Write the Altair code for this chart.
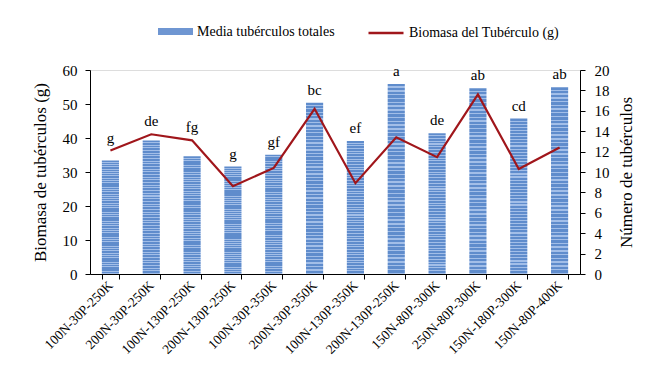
import altair as alt
import pandas as pd

categories = ["100N-30P-250K", "200N-30P-250K", "100N-130P-250K", "200N-130P-250K",
              "100N-30P-350K", "200N-30P-350K", "100N-130P-350K", "200N-130P-250K ",
              "150N-80P-300K", "250N-80P-300K", "150N-180P-300K", "150N-80P-400K"]
biomasa = [33.4, 39.3, 34.6, 31.6, 35.1, 50.4, 39.1, 55.9, 41.4, 54.6, 45.7, 54.9]
numero = [12.1, 13.7, 13.1, 8.6, 10.4, 16.2, 8.9, 13.4, 11.45, 17.6, 10.3, 12.4]
letras = ["g", "de", "fg", "g", "gf", "bc", "ef", "a", "de", "ab", "cd", "ab"]

bar_name = "Media tubérculos totales"
line_name = "Biomasa del Tubérculo (g)"

df = pd.DataFrame({
    "cat": categories,
    "bio": biomasa,
    "num": numero,
    "let": letras,
    "sb": [bar_name] * len(categories),
    "sl": [line_name] * len(categories),
})

FONT = "Liberation Serif"
DARK = "#5f8ccc"
LIGHT = "#a2bee8"

# horizontal stripe texture for the bars
N_STRIPES = 50
stops = []
for i in range(N_STRIPES):
    a = i / N_STRIPES
    m = (i + 0.62) / N_STRIPES
    b = (i + 1) / N_STRIPES
    stops += [alt.GradientStop(offset=a, color=DARK), alt.GradientStop(offset=m, color=DARK),
              alt.GradientStop(offset=m, color=LIGHT), alt.GradientStop(offset=b, color=LIGHT)]
stripes = alt.Gradient(gradient="linear", stops=stops, x1=0, x2=0, y1=0, y2=1)

xscale = alt.Scale(paddingInner=0.58, paddingOuter=0.29)
xaxis = alt.Axis(tickBand="extent", labelAngle=-45, labelAlign="right",
                 labelBaseline="middle", labelFontSize=13.5, labelPadding=4,
                 labelLimit=200, labelOverlap=False, title=None, labelFont=FONT,
                 labelExpr="trim(datum.label)")
X = dict(shorthand="cat:N", sort=categories, title=None, scale=xscale, axis=xaxis)

bars = alt.Chart(df).mark_bar(color=stripes).encode(
    x=alt.X(**X),
    y=alt.Y("bio:Q", scale=alt.Scale(domain=[0, 60]),
            axis=alt.Axis(values=[0, 10, 20, 30, 40, 50, 60], tickCount=7,
                          title="Biomasa de tubérculos (g)", titlePadding=13,
                          labelPadding=8, labelFont=FONT)),
)

legend_bar = alt.Chart(df).mark_bar(opacity=0).encode(
    x=alt.X(**X),
    y=alt.Y("bio:Q", scale=alt.Scale(domain=[0, 60]), axis=None),
    fill=alt.Fill("sb:N", scale=alt.Scale(domain=[bar_name], range=["#6f96d2"]),
                  legend=alt.Legend(title=None, orient="none", legendX=68, legendY=-56,
                                    symbolType="M-1,-0.2H1V0.2H-1Z", symbolSize=1225,
                                    symbolStrokeWidth=0, symbolOpacity=1,
                                    labelFont=FONT)),
)

# letters sit above whichever is higher: the bar or the line point (line scale is 1/3 of bar scale)
text = alt.Chart(df).transform_calculate(
    ly="max(datum.bio, datum.num * 3)"
).mark_text(baseline="bottom", dy=-5, font=FONT, fontSize=15, color="black").encode(
    x=alt.X(**X),
    y=alt.Y("ly:Q", scale=alt.Scale(domain=[0, 60]), axis=None),
    text="let:N",
)

line = alt.Chart(df).mark_line(strokeWidth=2.2, color="#a0161b").encode(
    x=alt.X(**X),
    y=alt.Y("num:Q", scale=alt.Scale(domain=[0, 20]),
            axis=alt.Axis(orient="right", values=list(range(0, 21, 2)),
                          title="Número de tubérculos", titleAngle=-90,
                          titlePadding=9, titleBaseline="top", labelPadding=9,
                          labelFont=FONT)),
    stroke=alt.Stroke("sl:N", scale=alt.Scale(domain=[line_name], range=["#a0161b"]),
                      legend=alt.Legend(title=None, orient="none", legendX=277, legendY=-56,
                                        symbolType="stroke", symbolSize=1225,
                                        symbolStrokeWidth=2.5, labelFont=FONT)),
)

chart = alt.layer(bars, legend_bar, text, line).resolve_scale(
    y="independent", fill="independent", stroke="independent"
).properties(
    width=490, height=204,
    autosize=alt.AutoSizeParams(type="none"),
    padding={"left": 82, "top": 62, "right": 62, "bottom": 100},
).configure_view(stroke=None).configure(
    background="white", font=FONT,
    style={"guide-label": {"font": FONT, "fill": "black"},
           "guide-title": {"font": FONT, "fill": "black"}},
).configure_axis(
    labelFont=FONT, titleFont=FONT, labelFontSize=15, titleFontSize=17,
    titleFontWeight="normal", labelColor="black", titleColor="black",
    domainColor="black", tickColor="black", tickSize=5, grid=False, labelOverlap=False
).configure_legend(
    labelFont=FONT, labelFontSize=14, labelColor="black", labelOffset=4
)

chart.save("out.html", embed_options={"renderer": "svg", "actions": False})
